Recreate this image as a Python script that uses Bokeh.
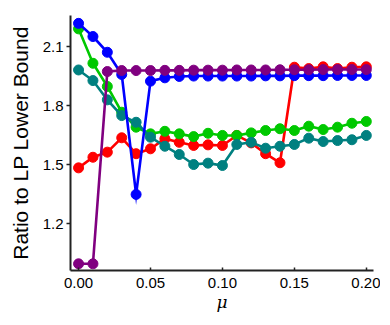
from bokeh.plotting import figure
from bokeh.models import FixedTicker, Range1d
from bokeh.embed import file_html
from bokeh.resources import INLINE

mu = [0.00, 0.01, 0.02, 0.03, 0.04, 0.05, 0.06, 0.07, 0.08, 0.09, 0.10,
      0.11, 0.12, 0.13, 0.14, 0.15, 0.16, 0.17, 0.18, 0.19, 0.20]

red = [1.483, 1.537, 1.563, 1.636, 1.555, 1.580, 1.631, 1.613, 1.597, 1.600, 1.597,
       1.648, 1.610, 1.555, 1.509, 1.995, 1.988, 1.997, 1.988, 1.995, 1.997]
green = [2.190, 2.015, 1.897, 1.766, 1.690, 1.656, 1.669, 1.656, 1.642, 1.659, 1.648,
         1.648, 1.661, 1.673, 1.682, 1.673, 1.695, 1.678, 1.690, 1.710, 1.719]
teal = [1.981, 1.927, 1.829, 1.749, 1.715, 1.639, 1.593, 1.551, 1.500, 1.507, 1.495,
        1.602, 1.613, 1.583, 1.593, 1.602, 1.634, 1.617, 1.622, 1.626, 1.648]
blue = [2.218, 2.151, 2.071, 1.958, 1.348, 1.924, 1.941, 1.948, 1.950, 1.950, 1.950,
        1.950, 1.950, 1.951, 1.951, 1.952, 1.952, 1.952, 1.953, 1.953, 1.953]
purple = [0.995, 0.995, 1.973, 1.978, 1.978, 1.978, 1.979, 1.979, 1.980, 1.980, 1.980,
          1.981, 1.981, 1.981, 1.982, 1.982, 1.982, 1.983, 1.983, 1.983, 1.983]

x_ticks = [0.0, 0.05, 0.10, 0.15, 0.20]
x_tick_labels = ["0.00", "0.05", "0.10", "0.15", "0.20"]
y_ticks = [1.2, 1.5, 1.8, 2.1]
y_tick_labels = ["1.2", "1.5", "1.8", "2.1"]

series = [
    (red, "#ff0000"),
    (green, "#00c800"),
    (teal, "#008080"),
    (blue, "#0000ff"),
    (purple, "#800080"),
]

p = figure(width=380, height=317, output_backend="svg", toolbar_location=None,
           title=None,
           x_range=Range1d(-0.0056, 0.205), y_range=Range1d(0.961, 2.258),
           min_border_left=70, min_border_right=7, min_border_top=15,
           min_border_bottom=47)
p.outline_line_color = None
p.grid.visible = False
p.background_fill_color = "white"

for vals, col in series:
    p.line(mu, vals, line_color=col, line_width=2.6, line_join="miter")
    p.scatter(mu, vals, size=10, fill_color=col, line_color=col)

font = "Liberation Sans"
for ax in (p.xaxis[0], p.yaxis[0]):
    ax.axis_line_color = "#222222"
    ax.axis_line_width = 2
    ax.major_tick_line_color = "#222222"
    ax.major_tick_line_width = 1.5
    ax.minor_tick_line_color = None
    ax.major_label_text_font = font
    ax.major_label_text_font_size = "15px"
    ax.major_label_text_color = "black"
    ax.axis_label_text_color = "black"

p.xaxis[0].ticker = FixedTicker(ticks=x_ticks)
p.xaxis[0].major_label_overrides = dict(zip(x_ticks, x_tick_labels))
p.xaxis[0].major_tick_in = 3
p.xaxis[0].major_tick_out = 0
p.xaxis[0].major_label_standoff = 7
p.xaxis[0].axis_label = "μ"
p.xaxis[0].axis_label_text_font = "DejaVu Serif"
p.xaxis[0].axis_label_text_font_style = "italic"
p.xaxis[0].axis_label_text_font_size = "17px"
p.xaxis[0].axis_label_standoff = 1

p.yaxis[0].ticker = FixedTicker(ticks=y_ticks)
p.yaxis[0].major_label_overrides = dict(zip(y_ticks, y_tick_labels))
p.yaxis[0].major_tick_in = 0
p.yaxis[0].major_tick_out = 4
p.yaxis[0].major_label_standoff = 3
p.yaxis[0].axis_label = "Ratio to LP Lower Bound"
p.yaxis[0].axis_label_text_font = font
p.yaxis[0].axis_label_text_font_style = "normal"
p.yaxis[0].axis_label_text_font_size = "21px"
p.yaxis[0].axis_label_standoff = 8

open("out.html", "w").write(file_html(p, INLINE))
